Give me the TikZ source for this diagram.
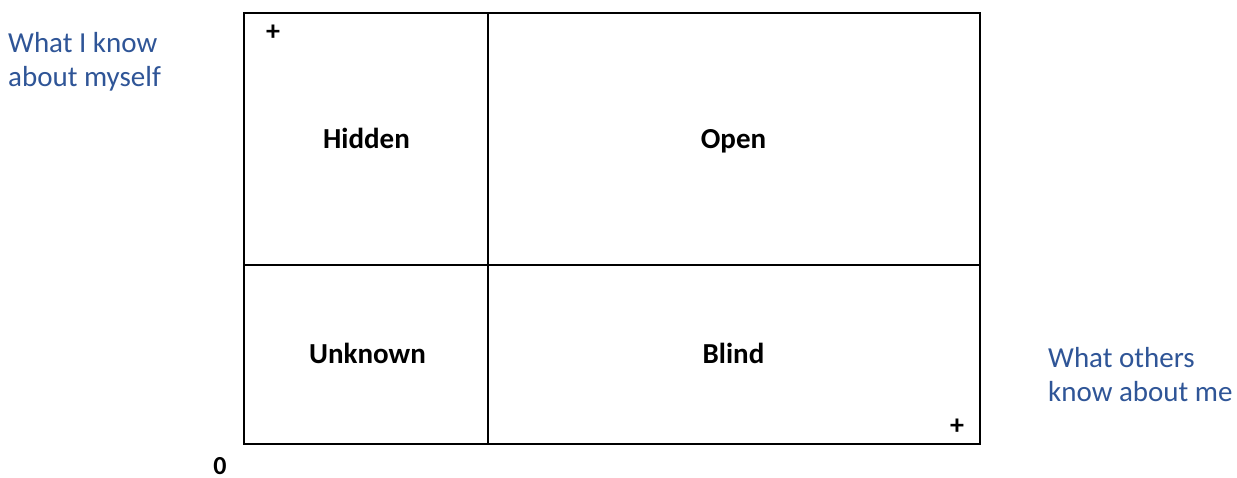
\documentclass[tikz,border=0pt]{standalone}
\usepackage{fontspec}
\setmainfont{Carlito}
\definecolor{lblue}{RGB}{47,85,151}
\begin{document}
\begin{tikzpicture}[x=1pt,y=-1pt,
  quad/.style={font=\fontsize{29}{34}\selectfont\bfseries, anchor=base, inner sep=0pt},
  side/.style={font=\fontsize{29}{34}\selectfont, text=lblue, align=left, inner sep=0pt, anchor=base west},
  sign/.style={font=\fontsize{28}{30}\selectfont\bfseries, inner sep=0pt},
  grid/.style={line width=2pt}]
\useasboundingbox (0,0) rectangle (1237,478);
\fill[white] (0,0) rectangle (1237,478);
\coordinate (tl) at (244,13);
\coordinate (br) at (980,444);
\draw[grid] (tl) rectangle (br);
\draw[grid] (488,13) -- (488,444);
\draw[grid] (244,265) -- (980,265);
\node[quad] (hidden) at (366.5,148.5) {Hidden};
\node[quad] (open) at (733.5,148.5) {Open};
\node[quad] (unknown) at (367.5,363.5) {Unknown};
\node[quad] (blind) at (733.5,363.5) {Blind};
\node[sign] (p1) at (273,33) {+};
\node[sign] (p2) at (957,427) {+};
\node[sign, font=\fontsize{26}{30}\selectfont\bfseries] (zero) at (220,466) {0};
\node[side] (me) at (8,87) {What I know\\about myself};
\node[side] (others) at (1048,401) {What others\\know about me};
\end{tikzpicture}
\end{document}
